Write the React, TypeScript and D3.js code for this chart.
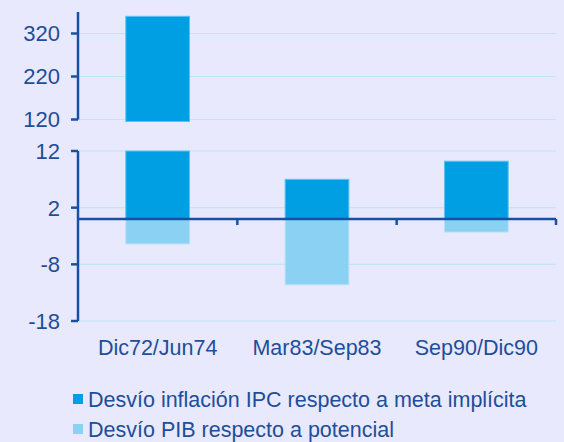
import React from 'react';
import * as d3 from 'd3';

const categories = ['Dic72/Jun74', 'Mar83/Sep83', 'Sep90/Dic90'];
const inflacion = [360, 7.0, 10.2];
const pib = [-4.4, -11.6, -2.3];
const topTicks = [120, 220, 320];
const bottomTicks = [-18, -8, 2, 12];
const legendLabels = ['Desvío inflación IPC respecto a meta implícita', 'Desvío PIB respecto a potencial'];

const W = 564;
const H = 442;
const BG = '#E9E9FD';
const AXIS = '#1A50A3';
const TEXT = '#1D4E9A';
const GRID = '#C0E4F8';
const C1 = '#009FE3';
const C2 = '#8BD1F3';
const FONT = '"Liberation Sans", Arial, sans-serif';

const App = () => {
  const left = 78;
  const right = 556;

  const x = d3.scaleBand().domain(categories).range([left, right]).paddingInner(0.6).paddingOuter(0.3);
  const xCat = d3.scaleBand().domain(categories).range([left, right]);
  const yTop = d3.scaleLinear().domain([120, 370]).range([119.5, 12]);
  const yBot = d3.scaleLinear().domain([-18, 12]).range([321, 151]);
  const colors = [C1, C2];

  return (
    <svg width={W} height={H} style={{ position: 'absolute', left: 0, top: 0, background: BG }} fontFamily={FONT}>
      <rect width={W} height={H} fill={BG} />

      {/* gridlines */}
      {topTicks.map((t) => (
        <line key={'gt' + t} x1={left} x2={right} y1={yTop(t)} y2={yTop(t)} stroke={GRID} strokeWidth={1.2} />
      ))}
      {bottomTicks.map((t) => (
        <line key={'gb' + t} x1={left} x2={right} y1={yBot(t)} y2={yBot(t)} stroke={GRID} strokeWidth={1.2} />
      ))}

      {/* top panel bars (only values above the break) */}
      {categories.map((c, i) =>
        inflacion[i] > 120 ? (
          <rect
            key={'top' + c}
            x={x(c)}
            width={x.bandwidth()}
            y={yTop(inflacion[i])}
            height={yTop(120) - yTop(inflacion[i]) + 2}
            fill={C1}
            stroke="#5CC3F0"
            strokeWidth={1}
          />
        ) : null
      )}

      {/* bottom panel bars */}
      {categories.map((c, i) => {
        const v = Math.min(inflacion[i], 12);
        const p = pib[i];
        return (
          <g key={'bot' + c}>
            <rect x={x(c)} width={x.bandwidth()} y={yBot(v)} height={yBot(0) - yBot(v)} fill={C1} stroke="#5CC3F0" strokeWidth={1} />
            <rect x={x(c)} width={x.bandwidth()} y={yBot(0)} height={yBot(p) - yBot(0)} fill={C2} stroke="#B5E2F7" strokeWidth={1} />
          </g>
        );
      })}

      {/* zero line with category ticks */}
      <line x1={left} x2={right} y1={yBot(0)} y2={yBot(0)} stroke={AXIS} strokeWidth={2.5} />
      {categories.map((c) => (
        <line key={'ct' + c} x1={xCat(c)! + xCat.bandwidth()} x2={xCat(c)! + xCat.bandwidth()} y1={yBot(0)} y2={yBot(0) + 6} stroke={AXIS} strokeWidth={2.5} />
      ))}

      {/* y axes */}
      <line x1={left} x2={left} y1={yTop.range()[1]} y2={yTop.range()[0]} stroke={AXIS} strokeWidth={2.5} />
      <line x1={left} x2={left} y1={yBot.range()[1]} y2={yBot.range()[0]} stroke={AXIS} strokeWidth={2.5} />
      {topTicks.map((t) => (
        <g key={'tt' + t}>
          <line x1={left - 7} x2={left} y1={yTop(t)} y2={yTop(t)} stroke={AXIS} strokeWidth={2.5} />
          <text x={60} y={yTop(t)} dy="0.36em" textAnchor="end" fontSize={22} fill={TEXT}>{t}</text>
        </g>
      ))}
      {bottomTicks.map((t) => (
        <g key={'bt' + t}>
          <line x1={left - 7} x2={left} y1={yBot(t)} y2={yBot(t)} stroke={AXIS} strokeWidth={2.5} />
          <text x={60} y={yBot(t)} dy="0.36em" textAnchor="end" fontSize={22} fill={TEXT}>{t}</text>
        </g>
      ))}

      {/* category labels */}
      {categories.map((c) => (
        <text key={'cl' + c} x={xCat(c)! + xCat.bandwidth() / 2} y={355} textAnchor="middle" fontSize={21.5} fill={TEXT}>{c}</text>
      ))}

      {/* legend */}
      {legendLabels.map((l, i) => (
        <g key={'lg' + i} transform={`translate(73, ${394 + i * 30})`}>
          <rect width={10} height={10} fill={colors[i]} />
          <text x={15} y={13} fontSize={21.5} fill={TEXT}>{l}</text>
        </g>
      ))}
    </svg>
  );
};

export default App;
